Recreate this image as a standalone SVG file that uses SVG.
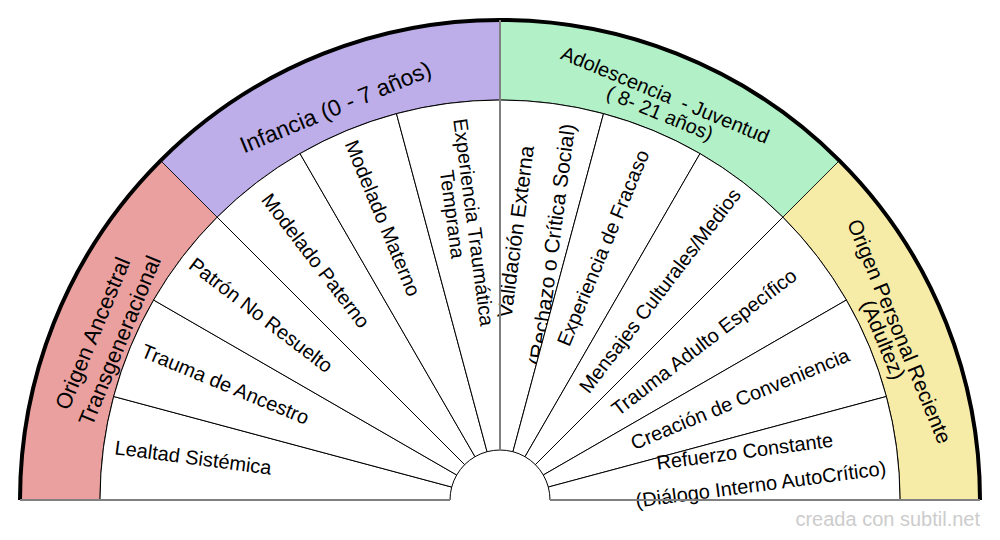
<svg xmlns="http://www.w3.org/2000/svg" width="1000" height="540" viewBox="0 0 1000 540">
<style>
.seg{fill:#ffffff;stroke:#000;stroke-width:1}
.band{stroke:#000;stroke-width:0.8}
.t{font-family:"Liberation Sans",Arial,sans-serif;font-size:20px;fill:#000;text-anchor:middle}
.t21{font-size:21px}
.t22{font-size:22px}
.t23{font-size:23px}
.gray{stroke:#808080;stroke-width:2;fill:none}
.credit{font-family:"Liberation Sans",Arial,sans-serif;font-size:20px;fill:#cccccc;text-anchor:end}
</style>
<rect width="1000" height="540" fill="#ffffff"/>

<g id="band-ancestral">
<path class="band" fill="#eaa09e" d="M20,500 A480,480 0 0 1 160.59,160.59 L217.16,217.16 A400,400 0 0 0 100,500 Z"/>
<text class="t t22" transform="translate(92.5,333.3) rotate(-67.5)" dy="0.35em">Origen Ancestral</text>
<text class="t t22" transform="translate(119.5,340.5) rotate(-67.5)" dy="0.35em">Transgeneracional</text>
</g>
<g id="band-infancia">
<path class="band" fill="#bdade9" d="M160.59,160.59 A480,480 0 0 1 500,20 L500,100 A400,400 0 0 0 217.16,217.16 Z"/>
<text class="t t23" transform="translate(335.5,107) rotate(-22.5)" dy="0.35em">Infancia (0 - 7 años)</text>
</g>
<g id="band-adolescencia">
<path class="band" fill="#b2f0c8" d="M500,20 A480,480 0 0 1 839.41,160.59 L782.84,217.16 A400,400 0 0 0 500,100 Z"/>
<text class="t" xml:space="preserve" transform="translate(665.3,94.7) rotate(22.5)" dy="0.35em">Adolescencia  - Juventud</text>
<text class="t" xml:space="preserve" transform="translate(660,113) rotate(22.5)" dy="0.35em">( 8- 21 años)</text>
</g>
<g id="band-personal">
<path class="band" fill="#f7eba8" d="M839.41,160.59 A480,480 0 0 1 980,500 L900,500 A400,400 0 0 0 782.84,217.16 Z"/>
<text class="t t21" transform="translate(899.5,331.3) rotate(67.5)" dy="0.35em">Origen Personal Reciente</text>
<text class="t t21" transform="translate(883.3,339.7) rotate(67.5)" dy="0.35em">(Adultez)</text>
</g>

<g id="seg-lealtad">
<path class="seg" d="M100,500 A400,400 0 0 1 113.63,396.47 L451.70,487.06 A50,50 0 0 0 450,500 Z"/>
<text class="t" transform="translate(193.2,457.5) rotate(7.5)" dy="0.35em">Lealtad Sistémica</text>
</g>
<g id="seg-trauma-ancestro">
<path class="seg" d="M113.63,396.47 A400,400 0 0 1 153.59,300 L456.70,475 A50,50 0 0 0 451.70,487.06 Z"/>
<text class="t" transform="translate(225.3,384.2) rotate(22.5)" dy="0.35em">Trauma de Ancestro</text>
</g>
<g id="seg-patron">
<path class="seg" d="M153.59,300 A400,400 0 0 1 217.16,217.16 L464.64,464.64 A50,50 0 0 0 456.70,475 Z"/>
<text class="t" transform="translate(261,315) rotate(37.5)" dy="0.35em">Patrón No Resuelto</text>
</g>
<g id="seg-paterno">
<path class="seg" d="M217.16,217.16 A400,400 0 0 1 300,153.59 L475,456.70 A50,50 0 0 0 464.64,464.64 Z"/>
<text class="t" transform="translate(315.8,260.5) rotate(52.5)" dy="0.35em">Modelado Paterno</text>
</g>
<g id="seg-materno">
<path class="seg" d="M300,153.59 A400,400 0 0 1 396.47,113.63 L487.06,451.70 A50,50 0 0 0 475,456.70 Z"/>
<text class="t" transform="translate(382.8,218) rotate(67.5)" dy="0.35em">Modelado Materno</text>
</g>
<g id="seg-experiencia-temprana">
<path class="seg" d="M396.47,113.63 A400,400 0 0 1 500,100 L500,450 A50,50 0 0 0 487.06,451.70 Z"/>
<text class="t" transform="translate(473.8,222.3) rotate(82.5)" dy="0.35em">Experiencia Traumática</text>
<text class="t" transform="translate(452.5,214.2) rotate(82.5)" dy="0.35em">Temprana</text>
</g>
<g id="seg-validacion">
<path class="seg" d="M500,100 A400,400 0 0 1 603.53,113.63 L512.94,451.70 A50,50 0 0 0 500,450 Z"/>
<text class="t t21" transform="translate(515.5,231.7) rotate(-82.5)" dy="0.35em">Validación Externa</text>
<text class="t t21" transform="translate(552,244.7) rotate(-82.5)" dy="0.35em">(Rechazo o Crítica Social)</text>
</g>
<g id="seg-fracaso">
<path class="seg" d="M603.53,113.63 A400,400 0 0 1 700,153.59 L525,456.70 A50,50 0 0 0 512.94,451.70 Z"/>
<text class="t" transform="translate(603,247.8) rotate(-67.5)" dy="0.35em">Experiencia de Fracaso</text>
</g>
<g id="seg-mensajes">
<path class="seg" d="M700,153.59 A400,400 0 0 1 782.84,217.16 L535.36,464.64 A50,50 0 0 0 525,456.70 Z"/>
<text class="t" transform="translate(659.8,290.5) rotate(-52.5)" dy="0.35em">Mensajes Culturales/Medios</text>
</g>
<g id="seg-trauma-adulto">
<path class="seg" d="M782.84,217.16 A400,400 0 0 1 846.41,300 L543.30,475 A50,50 0 0 0 535.36,464.64 Z"/>
<text class="t" transform="translate(704,342) rotate(-37.5)" dy="0.35em">Trauma Adulto Específico</text>
</g>
<g id="seg-conveniencia">
<path class="seg" d="M846.41,300 A400,400 0 0 1 886.37,396.47 L548.30,487.06 A50,50 0 0 0 543.30,475 Z"/>
<text class="t" transform="translate(740,398.8) rotate(-22.5)" dy="0.35em">Creación de Conveniencia</text>
</g>
<g id="seg-refuerzo">
<path class="seg" d="M886.37,396.47 A400,400 0 0 1 900,500 L550,500 A50,50 0 0 0 548.30,487.06 Z"/>
<text class="t" transform="translate(744.7,451.2) rotate(-7.5)" dy="0.35em">Refuerzo Constante</text>
<text class="t" transform="translate(760.8,484.2) rotate(-7.5)" dy="0.35em">(Diálogo Interno AutoCrítico)</text>
</g>

<g id="connectors">
<path d="M20,500 A480,480 0 0 1 980,500" fill="none" stroke="#000" stroke-width="4"/>
<line class="gray" x1="500" y1="20" x2="500" y2="100" stroke-width="1.2"/>
<line class="gray" x1="500" y1="100" x2="500" y2="450"/>
<line class="gray" x1="20" y1="500" x2="450" y2="500"/>
<line class="gray" x1="550" y1="500" x2="980" y2="500"/>
</g>

<text class="credit" x="980" y="526">creada con subtil.net</text>
</svg>
